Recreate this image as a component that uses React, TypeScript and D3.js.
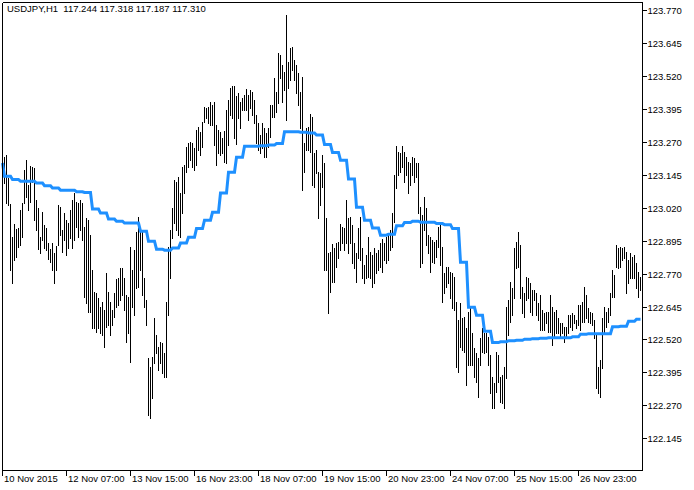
import React from "react";
import * as d3 from "d3";

const title = "USDJPY,H1\u00A0\u00A0117.244 117.318 117.187 117.310";

const highs = [
123.201,123.212,123.220,123.133,123.034,122.908,122.958,122.939,122.943,123.011,
123.038,123.163,123.201,123.106,123.178,123.174,123.171,123.049,123.019,122.908,
123.003,122.954,122.943,122.886,122.863,122.886,122.848,122.874,123.030,123.022,
122.935,123.000,122.973,122.962,123.011,123.049,123.076,123.041,123.038,123.049,
123.038,122.946,122.981,122.973,122.916,122.783,122.699,122.696,122.677,122.642,
122.661,122.631,122.772,122.699,122.661,122.631,122.696,122.749,122.753,122.791,
122.791,122.753,122.688,122.680,122.870,122.783,122.859,122.927,122.984,122.935,
122.935,122.753,122.669,122.449,122.414,122.452,122.601,122.536,122.490,122.509,
122.506,122.468,122.661,122.870,122.935,123.019,123.125,123.117,123.136,123.076,
123.174,123.182,123.250,123.266,123.269,123.266,123.247,123.315,123.326,123.307,
123.345,123.402,123.399,123.402,123.421,123.410,123.421,123.334,123.315,123.307,
123.285,123.311,123.391,123.429,123.475,123.482,123.482,123.444,123.456,123.421,
123.437,123.448,123.471,123.448,123.467,123.459,123.429,123.372,123.342,123.296,
123.342,123.323,123.304,123.323,123.410,123.410,123.513,123.459,123.608,123.600,
123.562,123.535,123.752,123.573,123.627,123.630,123.581,123.562,123.532,123.459,
123.516,123.266,123.323,123.326,123.376,123.364,123.228,123.239,123.155,123.152,
123.220,123.190,122.981,122.848,122.851,122.882,122.867,122.886,122.889,122.958,
122.946,122.943,123.049,122.981,122.984,122.954,122.886,122.848,122.943,122.984,
122.867,122.802,122.840,122.908,122.851,122.840,122.867,122.848,122.859,122.886,
122.901,122.886,122.908,122.924,122.935,123.000,123.144,123.254,123.231,123.228,
123.254,123.231,123.212,123.193,123.190,123.212,123.209,123.190,123.190,123.022,
122.992,123.060,123.019,122.916,122.908,122.897,122.889,122.897,122.946,122.954,
122.870,122.772,122.794,122.794,122.775,122.772,122.756,122.661,122.593,122.658,
122.601,122.604,122.563,122.623,122.639,122.544,122.487,122.468,122.449,122.525,
122.563,122.544,122.544,122.528,122.460,122.376,122.354,122.471,122.460,122.376,
122.384,122.414,122.642,122.669,122.737,122.715,122.867,122.889,122.927,122.878,
122.718,122.696,122.756,122.753,122.734,122.707,122.707,122.696,122.658,122.688,
122.631,122.620,122.623,122.623,122.688,122.642,122.623,122.631,122.601,122.582,
122.582,122.566,122.566,122.612,122.612,122.620,122.612,122.593,122.650,122.650,
122.661,122.718,122.688,122.639,122.623,122.620,122.593,122.544,122.414,122.441,
122.601,122.642,122.623,122.639,122.696,122.783,122.764,122.878,122.867,122.870,
122.867,122.870,122.851,122.821,122.848,122.832,122.840,122.810,122.775,122.756
];

const lows = [
123.125,123.114,123.038,123.030,122.783,122.734,122.821,122.832,122.870,122.878,
122.908,123.038,123.060,123.011,123.041,123.117,122.973,122.935,122.863,122.848,
122.897,122.867,122.859,122.825,122.813,122.783,122.734,122.783,122.878,122.916,
122.851,122.897,122.840,122.867,122.905,122.867,122.897,122.946,122.908,122.935,
122.897,122.680,122.658,122.623,122.623,122.563,122.563,122.547,122.563,122.544,
122.536,122.490,122.566,122.574,122.536,122.574,122.604,122.642,122.650,122.669,
122.688,122.631,122.509,122.544,122.433,122.642,122.612,122.715,122.718,122.783,
122.688,122.642,122.574,122.232,122.221,122.297,122.430,122.468,122.403,122.430,
122.392,122.376,122.376,122.612,122.753,122.905,122.962,122.935,122.916,122.908,
123.000,123.076,123.155,123.174,123.201,123.174,123.163,123.182,123.239,123.220,
123.250,123.345,123.361,123.342,123.334,123.334,123.258,123.182,123.228,123.220,
123.228,123.193,123.190,123.258,123.372,123.361,123.285,123.262,123.361,123.323,
123.391,123.391,123.391,123.353,123.399,123.372,123.342,123.266,123.239,123.228,
123.247,123.212,123.212,123.250,123.288,123.364,123.364,123.383,123.418,123.513,
123.421,123.467,123.353,123.475,123.505,123.543,123.505,123.456,123.410,123.323,
123.087,123.155,123.239,123.239,123.231,123.106,123.098,123.152,122.981,123.030,
123.098,122.783,122.783,122.620,122.699,122.737,122.737,122.794,122.829,122.859,
122.886,122.859,122.886,122.848,122.886,122.810,122.791,122.737,122.829,122.821,
122.753,122.734,122.753,122.756,122.753,122.718,122.734,122.772,122.783,122.794,
122.775,122.821,122.810,122.821,122.859,122.870,122.965,123.095,123.144,123.155,
123.174,123.117,123.144,123.076,123.106,123.144,123.117,123.136,123.000,122.794,
122.810,122.935,122.878,122.848,122.775,122.813,122.810,122.832,122.870,122.802,
122.661,122.696,122.718,122.734,122.677,122.639,122.631,122.414,122.395,122.490,
122.479,122.471,122.346,122.422,122.422,122.422,122.376,122.357,122.300,122.422,
122.471,122.468,122.471,122.422,122.316,122.259,122.259,122.319,122.357,122.281,
122.278,122.259,122.373,122.536,122.585,122.612,122.677,122.791,122.794,122.677,
122.620,122.604,122.669,122.677,122.623,122.612,122.669,122.612,122.593,122.555,
122.555,122.555,122.582,122.547,122.547,122.498,122.525,122.544,122.544,122.528,
122.544,122.509,122.528,122.544,122.566,122.555,122.582,122.563,122.574,122.555,
122.585,122.585,122.601,122.585,122.582,122.574,122.525,122.335,122.316,122.300,
122.411,122.544,122.566,122.585,122.612,122.680,122.680,122.794,122.791,122.794,
122.821,122.829,122.696,122.734,122.753,122.753,122.753,122.715,122.680,122.707
];

// higher-timeframe (H4) moving average, one value per H4 block (block 0 = first H1 bar)
const maH4 = [
123.190,123.140,123.127,123.121,123.121,123.114,123.104,123.095,123.087,123.087,
123.081,123.078,123.015,123.000,122.977,122.969,122.962,122.962,122.931,122.893,
122.863,122.859,122.867,122.886,122.908,122.941,122.973,123.003,123.076,123.155,
123.212,123.254,123.254,123.256,123.258,123.264,123.309,123.309,123.307,123.304,
123.296,123.260,123.230,123.201,123.129,123.022,122.973,122.943,122.916,122.920,
122.952,122.964,122.969,122.965,122.965,122.960,122.956,122.941,122.813,122.642,
122.612,122.551,122.508,122.511,122.515,122.517,122.521,122.523,122.525,122.526,
122.526,122.526,122.530,122.540,122.542,122.542,122.542,122.568,122.570,122.589,
122.597
];

const timeLabels = [
  "10 Nov 2015", "12 Nov 07:00", "13 Nov 15:00", "16 Nov 23:00", "18 Nov 07:00",
  "19 Nov 15:00", "20 Nov 23:00", "24 Nov 07:00", "25 Nov 15:00", "26 Nov 23:00"
];
const barsPerLabel = 32;

const priceTicks = [
  122.145, 122.270, 122.395, 122.520, 122.645, 122.770, 122.895,
  123.020, 123.145, 123.270, 123.395, 123.520, 123.645, 123.770
];

const W = 694, H = 490;
const left = 2.5, right = 642.5, top = 2.5, bottom = 470.5;
const FONT = "'Liberation Sans', Arial, sans-serif";

export default function App() {
  const n = highs.length;
  const x = d3.scaleLinear().domain([0, n - 1]).range([2.5, 2.5 + 2 * (n - 1)]);
  const y = d3.scaleLinear().domain([122.145, 123.770]).range([438.2, 10.3]);

  const maPoints = d3.range(n).map((i) => [x(i), y(maH4[i === 0 ? 0 : Math.ceil(i / 4)])] as [number, number]);
  const maPath = d3.line()(maPoints) || "";

  return (
    <div style={{ position: "fixed", left: 0, top: 0 }}>
      <svg width={W} height={H} style={{ display: "block", background: "#fff" }}>
        <rect x={0} y={0} width={W} height={H} fill="#fff" />
        <g shapeRendering="crispEdges">
          {highs.map((h, i) => (
            <line key={i} x1={x(i)} x2={x(i)} y1={Math.round(y(h))} y2={Math.round(y(lows[i])) + 1} stroke="#000" strokeWidth={1} />
          ))}
        </g>
        <path d={maPath} fill="none" stroke="#1E90FF" strokeWidth={3} strokeLinejoin="miter" />
        <g shapeRendering="crispEdges" stroke="#000" strokeWidth={1}>
          <line x1={left} x2={left} y1={top} y2={bottom} />
          <line x1={right} x2={right} y1={top} y2={bottom} />
          <line x1={left} x2={right} y1={top} y2={top} />
          <line x1={left} x2={right} y1={bottom} y2={bottom} />
          {priceTicks.map((p) => (
            <line key={p} x1={right} x2={right + 4} y1={Math.round(y(p)) + 0.5} y2={Math.round(y(p)) + 0.5} />
          ))}
          {timeLabels.map((t, k) => (
            <line key={t} x1={x(k * barsPerLabel)} x2={x(k * barsPerLabel)} y1={bottom} y2={bottom + 5} />
          ))}
        </g>
        <g fontFamily={FONT} fontSize={9.5} fill="#000">
          {priceTicks.map((p) => (
            <text key={p} x={right + 5} y={Math.round(y(p)) + 3.5}>{p.toFixed(3)}</text>
          ))}
          {timeLabels.map((t, k) => (
            <text key={t} x={x(k * barsPerLabel) + 1.5} y={482}>{t}</text>
          ))}
          <text x={7} y={12}>{title}</text>
        </g>
      </svg>
    </div>
  );
}
